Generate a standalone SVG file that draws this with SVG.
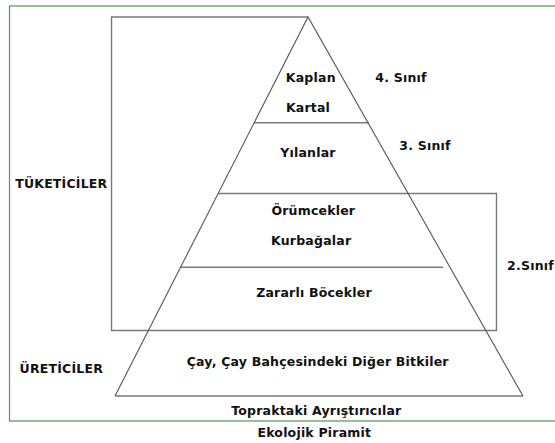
<svg xmlns="http://www.w3.org/2000/svg" width="555" height="443" viewBox="0 0 555 443">
<style>
  text { font-family: "DejaVu Sans", Verdana, sans-serif; font-weight: bold; font-size: 12.5px; letter-spacing: 0.2px; fill: #111; text-anchor: middle; }
  .frame { fill: none; stroke: #4e9a4e; stroke-width: 1.2; }
  .box { fill: none; stroke: #7a7a7a; stroke-width: 1.4; }
  .side { fill: none; stroke: #555; stroke-width: 1.1; }
  .tier { fill: none; stroke: #7a7a7a; stroke-width: 1.6; }
</style>
<rect width="555" height="443" fill="#ffffff"/>
<rect class="frame" x="9.5" y="6" width="560" height="415"/>
<g id="connectors">
  <polyline class="box" points="308,17 111.5,17 111.5,330.5 496.5,330.5 496.5,193.5 408,193.5"/>
  <line class="tier" x1="254" y1="122.7" x2="369" y2="122.7"/>
  <line class="tier" x1="218" y1="193.5" x2="408" y2="193.5"/>
  <line class="tier" x1="180.5" y1="267.3" x2="443" y2="267.3"/>
  <line class="tier" x1="115" y1="396" x2="523" y2="396"/>
  <polyline class="side" points="115,396 308,17 523,396"/>
</g>
<g id="tier4">
  <text x="310.8" y="81.7">Kaplan</text>
  <text x="308" y="111.7">Kartal</text>
</g>
<g id="tier3"><text x="308" y="157.3">Yılanlar</text></g>
<g id="tier2a">
  <text x="313.3" y="215">Örümcekler</text>
  <text x="311.2" y="245">Kurbağalar</text>
</g>
<g id="tier2b"><text x="314" y="297.3">Zararlı Böcekler</text></g>
<g id="producers"><text x="317.7" y="366">Çay, Çay Bahçesindeki Diğer Bitkiler</text></g>
<g id="decomposers"><text x="316.3" y="415">Topraktaki Ayrıştırıcılar</text></g>
<g id="class4"><text x="401" y="81.7">4. Sınıf</text></g>
<g id="class3"><text x="425" y="150">3. Sınıf</text></g>
<g id="class2"><text x="530.5" y="270">2.Sınıf</text></g>
<g id="consumers"><text x="61.3" y="188.3">TÜKETİCİLER</text></g>
<g id="producers-label"><text x="61.3" y="373">ÜRETİCİLER</text></g>
<g id="title"><text x="314.3" y="437.3">Ekolojik Piramit</text></g>
</svg>
